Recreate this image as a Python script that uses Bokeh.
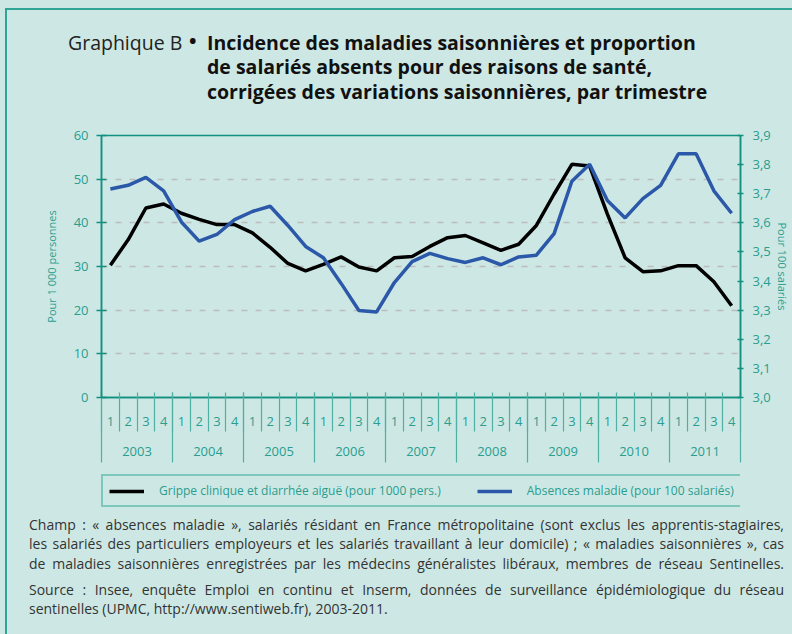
from bokeh.plotting import figure
from bokeh.layouts import column
from bokeh.models import (Range1d, LinearAxis, FixedTicker, CustomJSTickFormatter,
                          Legend, LegendItem, Grid, Div)
from bokeh.embed import file_html
from bokeh.resources import INLINE

# ---------------- data ----------------
years = ["2003", "2004", "2005", "2006", "2007", "2008", "2009", "2010", "2011"]
quarters = ["1", "2", "3", "4"]

# Grippe clinique et diarrhée aiguë (pour 1000 pers.) - left axis
grippe = [30.3, 36.1, 43.4, 44.3,
          42.2, 40.8, 39.6, 39.6,
          37.7, 34.4, 30.7, 29.0,
          30.5, 32.2, 29.9, 29.0,
          32.0, 32.3, 34.6, 36.6,
          37.1, 35.4, 33.7, 35.1,
          39.4, 46.6, 53.4, 53.0,
          42.0, 32.0, 28.8, 29.0,
          30.2, 30.2, 26.5, 21.0]

# Absences maladie (pour 100 salariés) - right axis
absences = [3.716, 3.729, 3.756, 3.710,
            3.603, 3.537, 3.560, 3.611,
            3.639, 3.657, 3.591, 3.519,
            3.480, 3.392, 3.299, 3.294,
            3.395, 3.467, 3.495, 3.477,
            3.464, 3.480, 3.456, 3.483,
            3.489, 3.563, 3.743, 3.801,
            3.677, 3.617, 3.683, 3.729,
            3.837, 3.837, 3.710, 3.633]

left_ticks = [0, 10, 20, 30, 40, 50, 60]
grid_ticks = [10, 20, 30, 40, 50]
right_ticks = [3.0, 3.1, 3.2, 3.3, 3.4, 3.5, 3.6, 3.7, 3.8, 3.9]

series_labels = ["Grippe clinique et diarrhée aiguë (pour 1000 pers.)",
                 "Absences maladie (pour 100 salariés)"]
left_axis_label = "Pour 1 000 personnes"
right_axis_label = "Pour 100 salariés"

title_prefix = "Graphique B"
title_lines = ["Incidence des maladies saisonnières et proportion",
               "de salariés absents pour des raisons de santé,",
               "corrigées des variations saisonnières, par trimestre"]

note_lines = ["Champ : « absences maladie », salariés résidant en France métropolitaine (sont exclus les apprentis-stagiaires,",
              "les salariés des particuliers employeurs et les salariés travaillant à leur domicile) ; « maladies saisonnières », cas",
              "de maladies saisonnières enregistrées par les médecins généralistes libéraux, membres de réseau Sentinelles.",
              "Source : Insee, enquête Emploi en continu et Inserm, données de surveillance épidémiologique du réseau",
              "sentinelles (UPMC, http://www.sentiweb.fr), 2003-2011."]
note_justified = [True, True, True, True, False]

# ---------------- style ----------------
BG = "#cde8e4"
LINE = "#11907f"
FRAME = "#2ea596"
TEXT = "#2a9d8f"
SEP = "#4fb0a3"
BLUE = "#2b58a8"
FONT = "Open Sans"
W = 792

# ---------------- title (HTML) ----------------
title_html = (
    f'<div style="position:relative;width:{W}px;height:120px;font-family:\'{FONT}\';line-height:1;">'
    f'<div style="position:absolute;left:68px;top:32.7px;font-size:19.5px;color:#222;white-space:nowrap;">{title_prefix}</div>'
    f'<div style="position:absolute;left:189px;top:31px;font-size:20px;font-weight:bold;color:#111;">&#8226;</div>'
)
for k, t in enumerate(title_lines):
    title_html += (f'<div style="position:absolute;left:207px;top:{32.7 + 24.4 * k:.1f}px;font-size:19.5px;'
                   f'font-weight:bold;color:#111;white-space:nowrap;">{t}</div>')
title_html += '</div>'
title_div = Div(text=title_html, width=W, height=120, margin=0)

# ---------------- notes (HTML) ----------------
note_tops = [5.6, 25.1, 44.6, 70.6, 90.1]
notes_html = f'<div style="position:relative;width:{W}px;height:122px;font-family:\'{FONT}\';line-height:1;">'
for t, top, just in zip(note_lines, note_tops, note_justified):
    align = "text-align:justify;text-align-last:justify;" if just else "text-align:left;"
    notes_html += (f'<div style="position:absolute;left:29px;top:{top}px;width:755px;font-size:14px;'
                   f'white-space:nowrap;color:#333;{align}">{t}</div>')
notes_html += '</div>'
notes_div = Div(text=notes_html, width=W, height=122, margin=0)

# ---------------- chart ----------------
n_q = len(years) * len(quarters)
xc = [i + 0.5 for i in range(n_q)]
q_labels = [q for _ in years for q in quarters]

p = figure(width=W, height=344, output_backend="svg", toolbar_location=None,
           x_range=Range1d(0, n_q), y_range=Range1d(left_ticks[0], left_ticks[-1]),
           x_axis_type=None, y_axis_type=None,
           min_border_left=101, min_border_right=49, min_border_top=15, min_border_bottom=67,
           background_fill_color=BG, border_fill_color=None,
           outline_line_color=LINE, outline_line_width=1.5)
p.extra_y_ranges = {"right": Range1d(right_ticks[0], right_ticks[-1])}

p.add_layout(Grid(dimension=1, ticker=FixedTicker(ticks=grid_ticks),
                  grid_line_color="#bcbcbc", grid_line_dash="6 8", grid_line_width=1.4))

ly = LinearAxis(ticker=FixedTicker(ticks=left_ticks), axis_label=left_axis_label,
                axis_line_color=LINE, axis_line_width=1.5,
                major_tick_line_color=LINE, major_tick_line_width=1.5,
                major_tick_in=5, major_tick_out=5, major_label_standoff=8,
                major_label_text_font=FONT, major_label_text_font_size="13px",
                major_label_text_color=TEXT,
                axis_label_text_font=FONT, axis_label_text_font_size="11px",
                axis_label_text_font_style="normal", axis_label_text_color=TEXT,
                axis_label_standoff=12)
p.add_layout(ly, "left")

ry = LinearAxis(y_range_name="right", ticker=FixedTicker(ticks=right_ticks),
                formatter=CustomJSTickFormatter(code="return tick.toFixed(1).replace('.', ',')"),
                axis_label=right_axis_label,
                axis_line_color=LINE, axis_line_width=1.5,
                major_tick_line_color=LINE, major_tick_line_width=1.5,
                major_tick_in=3, major_tick_out=3, major_label_standoff=9,
                major_label_text_font=FONT, major_label_text_font_size="13px",
                major_label_text_color=TEXT,
                axis_label_text_font=FONT, axis_label_text_font_size="11px",
                axis_label_text_font_style="normal", axis_label_text_color=TEXT,
                axis_label_standoff=1)
p.add_layout(ry, "right")

# quarter row
qa = LinearAxis(ticker=FixedTicker(ticks=xc, minor_ticks=list(range(n_q + 1))),
                major_label_overrides={x: q for x, q in zip(xc, q_labels)},
                axis_line_color=LINE, axis_line_width=1.5,
                major_tick_in=0, major_tick_out=0,
                minor_tick_line_color=SEP, minor_tick_line_width=1.2,
                minor_tick_in=5, minor_tick_out=34, major_label_standoff=-15,
                major_label_text_font=FONT, major_label_text_font_size="13px",
                major_label_text_color=TEXT)
p.add_layout(qa, "below")

# year row
yc = [len(quarters) * j + len(quarters) / 2 for j in range(len(years))]
yb = [len(quarters) * j for j in range(len(years) + 1)]
ya = LinearAxis(ticker=FixedTicker(ticks=yc, minor_ticks=yb),
                major_label_overrides={x: y for x, y in zip(yc, years)},
                axis_line_color=None, major_tick_in=0, major_tick_out=0,
                minor_tick_line_color=SEP, minor_tick_line_width=1.2,
                minor_tick_in=36, minor_tick_out=34, major_label_standoff=-16,
                major_label_text_font=FONT, major_label_text_font_size="13px",
                major_label_text_color=TEXT)
p.add_layout(ya, "below")

r1 = p.line(xc, grippe, line_color="black", line_width=3.5)
r2 = p.line(xc, absences, y_range_name="right", line_color=BLUE, line_width=3.5)

# ---------------- legend strip ----------------
# series redrawn out of view (range below the data) only to give the legend its line samples
lg = figure(width=W, height=48, output_backend="svg", toolbar_location=None,
            x_range=Range1d(0, n_q), y_range=Range1d(-2, -1),
            x_axis_type=None, y_axis_type=None, min_border=0,
            background_fill_color=None, border_fill_color=None, outline_line_color=None)
k1 = lg.line(xc, grippe, line_color="black", line_width=3.5)
k2 = lg.line(xc, grippe, line_color=BLUE, line_width=3.5)
legend = Legend(items=[LegendItem(label=series_labels[0], renderers=[k1]),
                       LegendItem(label=series_labels[1], renderers=[k2])],
                orientation="horizontal", location=(0, 5), margin=0,
                padding=6, spacing=36, glyph_width=35, glyph_height=14,
                label_standoff=15, label_height=15,
                label_text_font=FONT, label_text_font_size="12px",
                label_text_color=TEXT,
                border_line_color=FRAME, border_line_width=2,
                background_fill_color=BG, background_fill_alpha=1)
lg.add_layout(legend)

page_bg = (f"linear-gradient({FRAME},{FRAME}) 6px 8px / 786px 2px no-repeat, "
           f"linear-gradient({FRAME},{FRAME}) 5px 8px / 2px 626px no-repeat, {BG}")
layout = column(title_div, p, lg, notes_div, spacing=0, styles={"background": page_bg})

open("out.html", "w").write(file_html(layout, INLINE))
